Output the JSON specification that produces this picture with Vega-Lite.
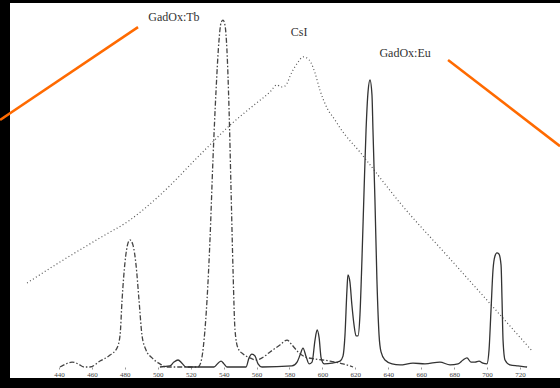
{
  "$schema": "https://vega.github.io/schema/vega-lite/v6.json",
  "width": 550,
  "height": 375,
  "autosize": {"type": "none"},
  "padding": {"left": 10, "top": 3, "right": 0, "bottom": 10},
  "background": "#000000",
  "config": {"view": {"fill": "#ffffff", "stroke": null}},
  "datasets": {
    "spectra": [
      {"s":"Tb","nm":440.6,"v":0},{"s":"Tb","nm":444.3,"v":0.9},{"s":"Tb","nm":447.9,"v":1.4},{"s":"Tb","nm":451.5,"v":0.9},{"s":"Tb","nm":455.2,"v":0},{"s":"Tb","nm":458.8,"v":0},{"s":"Tb","nm":464.9,"v":1.7},{"s":"Tb","nm":471.0,"v":3.4},{"s":"Tb","nm":475.2,"v":5.4},{"s":"Tb","nm":477.1,"v":9.1},{"s":"Tb","nm":478.3,"v":19.1},{"s":"Tb","nm":480.1,"v":30},{"s":"Tb","nm":481.9,"v":35.4},{"s":"Tb","nm":483.1,"v":36.3},{"s":"Tb","nm":484.9,"v":34.9},{"s":"Tb","nm":486.8,"v":29.1},{"s":"Tb","nm":488.6,"v":19.1},{"s":"Tb","nm":490.4,"v":9.1},{"s":"Tb","nm":492.8,"v":4.9},{"s":"Tb","nm":496.5,"v":2.6},{"s":"Tb","nm":501.3,"v":0.9},{"s":"Tb","nm":505.0,"v":0},{"s":"Tb","nm":524.4,"v":0},{"s":"Tb","nm":526.2,"v":1.4},{"s":"Tb","nm":528.1,"v":7.7},{"s":"Tb","nm":529.9,"v":19.1},{"s":"Tb","nm":531.7,"v":36.3},{"s":"Tb","nm":533.5,"v":59.1},{"s":"Tb","nm":535.4,"v":79.1},{"s":"Tb","nm":537.2,"v":93.4},{"s":"Tb","nm":538.4,"v":98.3},{"s":"Tb","nm":539.6,"v":99.1},{"s":"Tb","nm":540.8,"v":97.7},{"s":"Tb","nm":542.0,"v":90.6},{"s":"Tb","nm":543.3,"v":73.4},{"s":"Tb","nm":544.5,"v":50.6},{"s":"Tb","nm":545.7,"v":27.7},{"s":"Tb","nm":546.9,"v":10.6},{"s":"Tb","nm":548.7,"v":5.4},{"s":"Tb","nm":551.8,"v":3.7},{"s":"Tb","nm":556.0,"v":2.6},{"s":"Tb","nm":559.7,"v":2.0},{"s":"Tb","nm":563.3,"v":2.6},{"s":"Tb","nm":568.2,"v":4.3},{"s":"Tb","nm":574.2,"v":6.3},{"s":"Tb","nm":578.5,"v":7.7},{"s":"Tb","nm":581.5,"v":6.3},{"s":"Tb","nm":585.2,"v":4.3},{"s":"Tb","nm":589.4,"v":2.9},{"s":"Tb","nm":595.5,"v":2.3},{"s":"Tb","nm":604.6,"v":1.7},{"s":"Tb","nm":612.5,"v":0.9},{"s":"Tb","nm":618.6,"v":0},
      {"s":"Eu","nm":501.3,"v":0},{"s":"Eu","nm":507.4,"v":0.3},{"s":"Eu","nm":509.8,"v":1.4},{"s":"Eu","nm":512.3,"v":2.0},{"s":"Eu","nm":514.7,"v":1.1},{"s":"Eu","nm":517.1,"v":0},{"s":"Eu","nm":534.1,"v":0},{"s":"Eu","nm":536.6,"v":1.1},{"s":"Eu","nm":538.4,"v":1.7},{"s":"Eu","nm":540.2,"v":0.9},{"s":"Eu","nm":542.0,"v":0},{"s":"Eu","nm":553.6,"v":0},{"s":"Eu","nm":555.4,"v":2.6},{"s":"Eu","nm":557.2,"v":3.7},{"s":"Eu","nm":559.1,"v":3.1},{"s":"Eu","nm":560.9,"v":0.9},{"s":"Eu","nm":563.3,"v":0},{"s":"Eu","nm":581.5,"v":0.3},{"s":"Eu","nm":584.6,"v":1.4},{"s":"Eu","nm":586.4,"v":3.4},{"s":"Eu","nm":588.2,"v":5.4},{"s":"Eu","nm":590.0,"v":3.1},{"s":"Eu","nm":591.9,"v":0.9},{"s":"Eu","nm":593.7,"v":1.4},{"s":"Eu","nm":595.5,"v":7.7},{"s":"Eu","nm":596.8,"v":10.6},{"s":"Eu","nm":598.0,"v":8.3},{"s":"Eu","nm":599.2,"v":2.6},{"s":"Eu","nm":601.0,"v":0.9},{"s":"Eu","nm":605.8,"v":1.1},{"s":"Eu","nm":610.7,"v":1.7},{"s":"Eu","nm":612.5,"v":3.1},{"s":"Eu","nm":613.7,"v":9.1},{"s":"Eu","nm":614.9,"v":22},{"s":"Eu","nm":615.5,"v":26.3},{"s":"Eu","nm":616.7,"v":24.3},{"s":"Eu","nm":617.9,"v":17.7},{"s":"Eu","nm":619.2,"v":12},{"s":"Eu","nm":620.4,"v":8.9},{"s":"Eu","nm":621.6,"v":8.9},{"s":"Eu","nm":622.8,"v":14.9},{"s":"Eu","nm":624.0,"v":30.6},{"s":"Eu","nm":625.3,"v":50.6},{"s":"Eu","nm":626.5,"v":67.7},{"s":"Eu","nm":627.7,"v":78.6},{"s":"Eu","nm":628.9,"v":82},{"s":"Eu","nm":630.1,"v":77.7},{"s":"Eu","nm":630.7,"v":67.7},{"s":"Eu","nm":631.9,"v":47.7},{"s":"Eu","nm":633.1,"v":24.9},{"s":"Eu","nm":634.4,"v":9.1},{"s":"Eu","nm":635.6,"v":4.3},{"s":"Eu","nm":638.0,"v":2.0},{"s":"Eu","nm":642.3,"v":0.9},{"s":"Eu","nm":647.1,"v":0.6},{"s":"Eu","nm":655.0,"v":1.1},{"s":"Eu","nm":662.3,"v":0.9},{"s":"Eu","nm":671.4,"v":1.4},{"s":"Eu","nm":677.5,"v":0.6},{"s":"Eu","nm":682.4,"v":0.9},{"s":"Eu","nm":685.4,"v":2.0},{"s":"Eu","nm":687.8,"v":2.6},{"s":"Eu","nm":690.2,"v":1.4},{"s":"Eu","nm":692.7,"v":1.4},{"s":"Eu","nm":695.1,"v":1.7},{"s":"Eu","nm":697.5,"v":1.1},{"s":"Eu","nm":699.9,"v":0.9},{"s":"Eu","nm":701.2,"v":4.9},{"s":"Eu","nm":702.4,"v":16.3},{"s":"Eu","nm":703.6,"v":27.7},{"s":"Eu","nm":704.8,"v":31.7},{"s":"Eu","nm":706.0,"v":32.6},{"s":"Eu","nm":707.2,"v":32.3},{"s":"Eu","nm":708.5,"v":29.1},{"s":"Eu","nm":709.1,"v":19.1},{"s":"Eu","nm":709.7,"v":7.7},{"s":"Eu","nm":710.9,"v":2.0},{"s":"Eu","nm":713.9,"v":0.6},{"s":"Eu","nm":718.8,"v":0.3},{"s":"Eu","nm":724.3,"v":0},
      {"s":"CsI","nm":420.6,"v":24},{"s":"CsI","nm":440.6,"v":30},{"s":"CsI","nm":464.9,"v":36.9},{"s":"CsI","nm":483.1,"v":42},{"s":"CsI","nm":501.3,"v":49.1},{"s":"CsI","nm":525.6,"v":60.6},{"s":"CsI","nm":543.9,"v":69.1},{"s":"CsI","nm":559.1,"v":75.1},{"s":"CsI","nm":568.2,"v":78.6},{"s":"CsI","nm":572.4,"v":80.6},{"s":"CsI","nm":574.8,"v":80},{"s":"CsI","nm":577.3,"v":80.3},{"s":"CsI","nm":581.5,"v":84.3},{"s":"CsI","nm":585.2,"v":87.1},{"s":"CsI","nm":588.2,"v":88.6},{"s":"CsI","nm":590.6,"v":88.3},{"s":"CsI","nm":593.1,"v":86.9},{"s":"CsI","nm":595.5,"v":84},{"s":"CsI","nm":598.5,"v":79.1},{"s":"CsI","nm":602.8,"v":74},{"s":"CsI","nm":607.6,"v":70.6},{"s":"CsI","nm":610.7,"v":68.3},{"s":"CsI","nm":622.8,"v":61.4},{"s":"CsI","nm":647.1,"v":46.9},{"s":"CsI","nm":677.5,"v":30.9},{"s":"CsI","nm":707.9,"v":14.9},{"s":"CsI","nm":727.3,"v":4.6}
    ],
    "leaders": [
      {"g":"Tb","nm":404.2,"v":70.6},{"g":"Tb","nm":488.0,"v":97.1},
      {"g":"Eu","nm":676.3,"v":87.7},{"g":"Eu","nm":744.3,"v":63.1}
    ],
    "labels": [
      {"t":"GadOx:Tb","nm":509.8,"v":100},
      {"t":"CsI","nm":585.8,"v":95.7},
      {"t":"GadOx:Eu","nm":650.2,"v":89.7}
    ]
  },
  "encoding": {
    "x": {"field": "nm", "type": "quantitative",
      "scale": {"domain": [410.24, 744.3], "nice": false, "zero": false},
      "axis": {"values": [440,460,480,500,520,540,560,580,600,620,640,660,680,700,720],
        "offset": -11, "domain": false, "grid": false, "title": null,
        "tickSize": 2, "tickColor": "#999999", "labelPadding": 1,
        "labelFont": "Liberation Serif", "labelFontSize": 7, "labelColor": "#444444"}},
    "y": {"field": "v", "type": "quantitative",
      "scale": {"domain": [-3.143, 104], "nice": false, "zero": false},
      "axis": null}
  },
  "layer": [
    {"data": {"values": [{}]}, "mark": {"type": "rule", "color": "#999999", "strokeWidth": 1},
     "encoding": {"x": {"datum": 428.5}, "x2": {"datum": 730.3}, "y": {"datum": 0}}},
    {"data": {"name": "spectra"}, "transform": [{"filter": "datum.s === 'CsI'"}],
     "mark": {"type": "line", "interpolate": "monotone", "color": "#555555", "strokeWidth": 1.2, "strokeDash": [1, 2.5]}},
    {"data": {"name": "spectra"}, "transform": [{"filter": "datum.s === 'Tb'"}],
     "mark": {"type": "line", "interpolate": "monotone", "color": "#444444", "strokeWidth": 1.3, "strokeDash": [5, 2, 1.5, 2]}},
    {"data": {"name": "spectra"}, "transform": [{"filter": "datum.s === 'Eu'"}],
     "mark": {"type": "line", "interpolate": "monotone", "color": "#333333", "strokeWidth": 1.3}},
    {"data": {"name": "labels"},
     "mark": {"type": "text", "font": "Liberation Serif", "fontSize": 12, "color": "#333333", "align": "center", "baseline": "middle"},
     "encoding": {"text": {"field": "t"}}},
    {"data": {"values": [{}]},
     "mark": {"type": "text", "font": "Liberation Serif", "fontSize": 6, "color": "#555555", "align": "center", "baseline": "middle", "text": "nm"},
     "encoding": {"x": {"datum": 733.5}, "y": {"datum": -1.5}}},
    {"data": {"name": "leaders"},
     "mark": {"type": "line", "color": "#ff6a00", "strokeWidth": 2.5, "clip": false},
     "encoding": {"detail": {"field": "g"}}}
  ]
}
